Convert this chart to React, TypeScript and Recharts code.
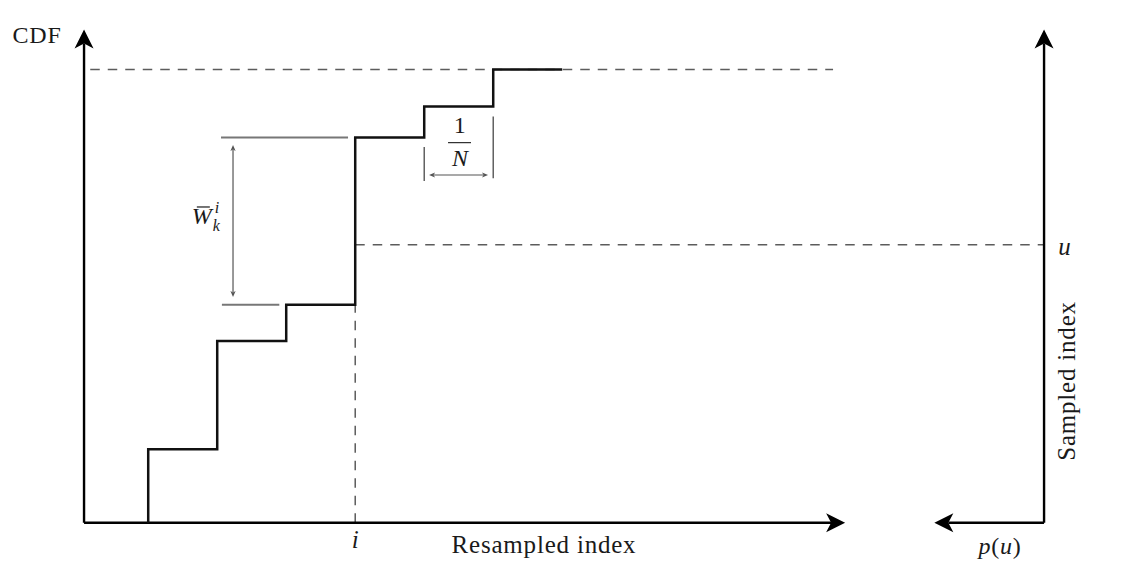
import React from 'react';
import { ComposedChart, Line, XAxis, YAxis, ReferenceLine, ReferenceDot } from 'recharts';

// ---- data ----
const stepIndex = [1, 1, 2, 3, 4, 5, 6, 7];
const cdfValues = [0, 0.162, 0.401, 0.481, 0.85, 0.918, 1.0, 1.0];
const uLevel = 0.613;
const topLevel = 1.0;
const selectedIndex = 4; // i
const originX = 0.07;
const axisTop = 1.088;
const xAxisEnd = 11.1;
const sampledAxisX = 13.983;
const pAxisEnd = 12.393;
const topDashStart = 0.16;
const topDashEnd = 10.925;
const wBarLevels = [0.85, 0.481];
const wBarStarts = [2.055, 2.068];
const wBarEnds = [3.896, 2.9];
const wArrowX = 2.229;
const wArrowSpan = [0.833, 0.498];
const nBracketLeft = [5, 0.754, 0.829];
const nBracketRight = [6, 0.76, 0.896];
const nArrow = [5.07, 5.925, 0.767];
const fracBar = [5.345, 5.678, 0.8384];

const data = stepIndex.map((x, k) => ({ x, cdf: cdfValues[k] }));

const FONT = '"Liberation Serif", "Times New Roman", serif';
const TEXT = '#1a1a1a';

function head(x: number, y: number, dx: number, dy: number, len: number, hw: number, notch: number, fill: string, key: string) {
  const L = Math.hypot(dx, dy) || 1;
  const ux = dx / L;
  const uy = dy / L;
  const px = -uy;
  const py = ux;
  const bx = x - ux * len;
  const by = y - uy * len;
  const nx = x - ux * (len - notch);
  const ny = y - uy * (len - notch);
  return (
    <path
      key={key}
      d={`M${x},${y} L${bx + px * hw},${by + py * hw} L${nx},${ny} L${bx - px * hw},${by - py * hw} Z`}
      fill={fill}
      stroke="none"
    />
  );
}

const arrowShape =
  (color: string, width: number, len: number, hw: number, notch: number, both: boolean) =>
  (props: any) => {
    const { x1, y1, x2, y2 } = props;
    const dx = x2 - x1;
    const dy = y2 - y1;
    const L = Math.hypot(dx, dy) || 1;
    const ux = dx / L;
    const uy = dy / L;
    const sx = both ? x1 + ux * (len - notch) : x1;
    const sy = both ? y1 + uy * (len - notch) : y1;
    const ex = x2 - ux * (len - notch);
    const ey = y2 - uy * (len - notch);
    return (
      <g>
        <line x1={sx} y1={sy} x2={ex} y2={ey} stroke={color} strokeWidth={width} strokeLinecap="butt" />
        {head(x2, y2, dx, dy, len, hw, notch, color, 'h2')}
        {both ? head(x1, y1, -dx, -dy, len, hw, notch, color, 'h1') : null}
      </g>
    );
  };

const bigArrow = arrowShape('#000', 2.4, 19, 9.5, 5, false);
const smallDouble = arrowShape('#555', 1.2, 6, 2.6, 1.5, true);

const textShape =
  (label: React.ReactNode, opts: { anchor?: string; size?: number; italic?: boolean; rotate?: number } = {}) =>
  (p: any) => (
    <text
      x={p.cx}
      y={p.cy}
      textAnchor={opts.anchor ?? 'middle'}
      fontFamily={FONT}
      fontSize={opts.size ?? 25}
      fontStyle={opts.italic ? 'italic' : 'normal'}
      fill={TEXT}
      letterSpacing={opts.italic ? 0 : 0.8}
      transform={opts.rotate ? `rotate(${opts.rotate}, ${p.cx}, ${p.cy})` : undefined}
    >
      {label}
    </text>
  );

const wShape = (p: any) => {
  const { cx, cy } = p;
  return (
    <g fontFamily={FONT} fill={TEXT}>
      <text x={cx} y={cy} fontSize={24} fontStyle="italic">W</text>
      <line x1={cx + 5} x2={cx + 18} y1={cy - 17} y2={cy - 17} stroke={TEXT} strokeWidth={1.2} />
      <text x={cx + 23} y={cy - 11} fontSize={16} fontStyle="italic">i</text>
      <text x={cx + 21} y={cy + 7} fontSize={16} fontStyle="italic">k</text>
    </g>
  );
};

const dash = { stroke: '#5c5c5c', strokeWidth: 1.5, strokeDasharray: '9.5 8' };

export default function App() {
  return (
    <div style={{ width: 1129, height: 569, background: '#fff' }}>
      <style>{`body{margin:0;background:#fff}`}</style>
      <ComposedChart width={1129} height={569} data={data} margin={{ top: 0, right: 0, bottom: 0, left: 0 }}>
        <XAxis dataKey="x" type="number" domain={[-1.148, 15.214]} allowDataOverflow hide />
        <YAxis type="number" domain={[-0.1021, 1.1531]} allowDataOverflow hide />

        {/* dashed guides */}
        <ReferenceLine segment={[{ x: topDashStart, y: topLevel }, { x: topDashEnd, y: topLevel }]} {...dash} />
        <ReferenceLine segment={[{ x: selectedIndex, y: uLevel }, { x: sampledAxisX, y: uLevel }]} {...dash} />
        <ReferenceLine segment={[{ x: selectedIndex, y: 0 }, { x: selectedIndex, y: cdfValues[3] }]} {...dash} />

        {/* W annotation */}
        {wBarLevels.map((lv, k) => (
          <ReferenceLine
            key={`wb${k}`}
            segment={[{ x: wBarStarts[k], y: lv }, { x: wBarEnds[k], y: lv }]}
            stroke="#777"
            strokeWidth={2}
          />
        ))}
        <ReferenceLine segment={[{ x: wArrowX, y: wArrowSpan[1] }, { x: wArrowX, y: wArrowSpan[0] }]} shape={smallDouble} />

        {/* 1/N annotation */}
        <ReferenceLine segment={[{ x: nBracketLeft[0], y: nBracketLeft[1] }, { x: nBracketLeft[0], y: nBracketLeft[2] }]} stroke="#555" strokeWidth={1.4} />
        <ReferenceLine segment={[{ x: nBracketRight[0], y: nBracketRight[1] }, { x: nBracketRight[0], y: nBracketRight[2] }]} stroke="#555" strokeWidth={1.4} />
        <ReferenceLine segment={[{ x: nArrow[0], y: nArrow[2] }, { x: nArrow[1], y: nArrow[2] }]} shape={smallDouble} />
        <ReferenceLine segment={[{ x: fracBar[0], y: fracBar[2] }, { x: fracBar[1], y: fracBar[2] }]} stroke={TEXT} strokeWidth={1.1} />

        {/* axes */}
        <ReferenceLine segment={[{ x: originX, y: 0 }, { x: originX, y: axisTop }]} shape={bigArrow} />
        <ReferenceLine segment={[{ x: originX, y: 0 }, { x: xAxisEnd, y: 0 }]} shape={bigArrow} />
        <ReferenceLine segment={[{ x: sampledAxisX, y: 0 }, { x: sampledAxisX, y: axisTop }]} shape={bigArrow} />
        <ReferenceLine segment={[{ x: sampledAxisX, y: 0 }, { x: pAxisEnd, y: 0 }]} shape={bigArrow} />

        {/* CDF step */}
        <Line
          dataKey="cdf"
          type="stepAfter"
          stroke="#111"
          strokeWidth={2.5}
          dot={false}
          activeDot={false}
          isAnimationActive={false}
        />

        {/* texts */}
        <ReferenceDot x={-0.612} y={1.058} r={1} shape={textShape('CDF', { size: 24 })} />
        <ReferenceDot x={selectedIndex} y={-0.056} r={1} shape={textShape('i', { italic: true })} />
        <ReferenceDot x={6.736} y={-0.066} r={1} shape={textShape('Resampled index')} />
        <ReferenceDot
          x={13.345}
          y={-0.069}
          r={1}
          shape={textShape(
            <>
              <tspan fontStyle="italic">p</tspan>(<tspan fontStyle="italic">u</tspan>)
            </>,
            { size: 24 }
          )}
        />
        <ReferenceDot x={14.28} y={0.59} r={1} shape={textShape('u', { italic: true })} />
        <ReferenceDot x={14.425} y={0.3127} r={1} shape={textShape('Sampled index', { rotate: -90 })} />
        <ReferenceDot x={1.632} y={0.659} r={1} shape={wShape} />
        <ReferenceDot x={5.519} y={0.86} r={1} shape={textShape('1', { size: 24 })} />
        <ReferenceDot x={5.519} y={0.786} r={1} shape={textShape('N', { italic: true, size: 24 })} />
      </ComposedChart>
    </div>
  );
}
